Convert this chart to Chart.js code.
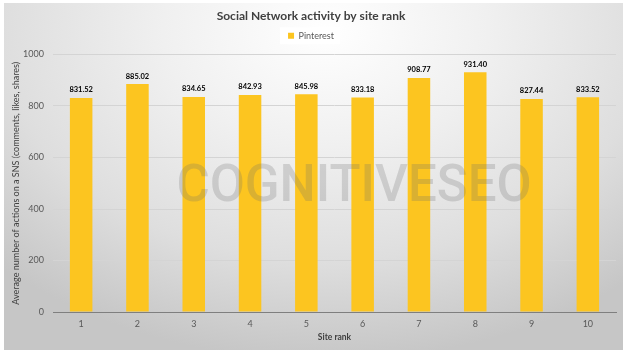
<!DOCTYPE html>
<html>
<head>
<meta charset="utf-8">
<script src="https://cdn.jsdelivr.net/npm/chart.js@4.4.1/dist/chart.umd.min.js"></script>
<style>
html,body{margin:0;padding:0;background:#fff;}
#wrap{position:relative;width:628px;height:355px;}
#bg{position:absolute;left:4px;top:3px;width:619px;height:347px;
background:radial-gradient(ellipse 75% 95% at 52% 8%, #ffffff 0%, #f0f0f0 35%, #dedede 70%, #c6c6c6 100%);}
canvas{position:absolute;left:0;top:0;}
</style>
</head>
<body>
<div id="wrap"><div id="bg"></div><canvas id="c" width="628" height="355"></canvas></div>
<script>
const categories = ['1','2','3','4','5','6','7','8','9','10'];
const pinterest = [831.52, 885.02, 834.65, 842.93, 845.98, 833.18, 908.77, 931.40, 827.44, 833.52];
const seriesName = 'Pinterest';
const chartTitle = 'Social Network activity by site rank';
const yTitle = 'Average number of actions on a SNS (comments, likes, shares)';
const xTitle = 'Site rank';
const watermark = 'COGNITIVESEO';

const FONT = "Lato, 'Open Sans', sans-serif";

const legendBoxPlugin = {
  id: 'legendBox',
  beforeDraw(chart) {
    const lg = chart.legend;
    if (!lg || !lg.legendHitBoxes || !lg.legendHitBoxes.length) return;
    const hb = lg.legendHitBoxes[0];
    const ctx = chart.ctx;
    ctx.save();
    ctx.fillStyle = 'rgba(255,255,255,0.9)';
    ctx.fillRect(hb.left - 8, hb.top - 4, hb.width + 14, hb.height + 8);
    ctx.restore();
  }
};

const labelPlugin = {
  id: 'valueLabels',
  afterDatasetsDraw(chart) {
    const ctx = chart.ctx;
    const meta = chart.getDatasetMeta(0);
    ctx.save();
    ctx.font = "bold 7.5px " + FONT;
    ctx.fillStyle = '#000';
    ctx.textAlign = 'center';
    ctx.textBaseline = 'middle';
    meta.data.forEach((bar, i) => {
      ctx.fillText(pinterest[i].toFixed(2), bar.x, bar.y - 8);
    });
    ctx.font = "500 51px Roboto, " + FONT;
    ctx.fillStyle = 'rgba(110,110,110,0.24)';
    ctx.fillText(watermark, 354, 188);
    ctx.restore();
  }
};

new Chart(document.getElementById('c'), {
  type: 'bar',
  data: {
    labels: categories,
    datasets: [{
      label: seriesName,
      data: pinterest,
      backgroundColor: '#FCC520',
      borderWidth: 0,
      categoryPercentage: 1,
      barPercentage: 0.4
    }]
  },
  options: {
    responsive: false,
    animation: false,
    devicePixelRatio: 1,
    layout: { padding: { left: 6, right: 12, top: 0, bottom: 0 } },
    plugins: {
      title: {
        display: true, text: chartTitle, color: '#404040',
        font: { family: FONT, size: 12, weight: 'bold' },
        padding: { top: 9.3, bottom: 0 }
      },
      subtitle: {
        display: true, text: '', weight: 500,
        font: { size: 1 }, padding: { top: 0, bottom: 3 }
      },
      legend: {
        display: true,
        labels: {
          color: '#595959', font: { family: FONT, size: 9 },
          boxWidth: 6, boxHeight: 6, padding: 7.6
        }
      },
      tooltip: { enabled: false }
    },
    scales: {
      x: {
        grid: { display: false, drawTicks: false },
        border: { display: true, color: '#7f7f7f', width: 1 },
        ticks: { color: '#595959', font: { family: FONT, size: 9 }, padding: 6.6 },
        title: { display: true, text: xTitle, color: '#404040',
          font: { family: FONT, size: 8.5, weight: 'bold' }, padding: { top: 2, bottom: 13 } },
        afterFit(s) { s.height = 43; }
      },
      y: {
        min: 0, max: 1000,
        ticks: { stepSize: 200, color: '#595959', font: { family: FONT, size: 9 }, padding: 9,
          callback: (v) => String(v) },
        grid: { color: '#d4d4d4', drawTicks: false },
        border: { display: false },
        title: { display: true, text: yTitle, color: '#404040',
          font: { family: FONT, size: 9 }, padding: { top: 4.6, bottom: 4 } },
        afterFit(s) { s.width = 47; }
      }
    }
  },
  plugins: [legendBoxPlugin, labelPlugin]
});
</script>
</body>
</html>
